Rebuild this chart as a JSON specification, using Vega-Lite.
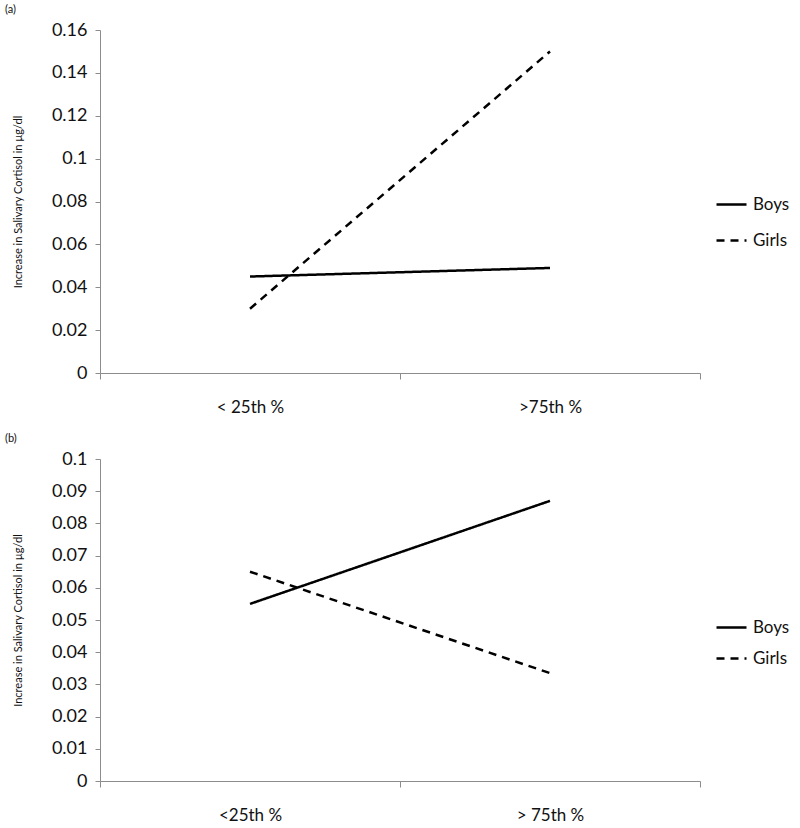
{
  "$schema": "https://vega.github.io/schema/vega-lite/v6.json",
  "background": "white",
  "padding": {"left": 5, "top": 4, "right": 5, "bottom": 4},
  "spacing": 86,
  "bounds": "flush",
  "config": {
    "font": "Lato",
    "view": {"stroke": null},
    "axis": {"grid": false, "domainColor": "#8c8c8c", "tickColor": "#8c8c8c", "labelColor": "#111", "labelFont": "Lato", "titleFont": "Lato", "titleFontWeight": "normal", "titleColor": "#111"},
    "legend": {"labelFont": "Lato", "labelFontSize": 17, "labelColor": "#111"},
    "title": {"font": "Lato", "fontSize": 11, "fontWeight": "normal", "color": "#111", "anchor": "start", "frame": "group", "dx": -95, "offset": 6}
  },
  "datasets": {
    "a": [
      {"pct": "< 25th %", "sex": "Boys", "cortisol": 0.045},
      {"pct": ">75th %", "sex": "Boys", "cortisol": 0.049},
      {"pct": "< 25th %", "sex": "Girls", "cortisol": 0.03},
      {"pct": ">75th %", "sex": "Girls", "cortisol": 0.15}
    ],
    "b": [
      {"pct": "<25th %", "sex": "Boys", "cortisol": 0.055},
      {"pct": "> 75th %", "sex": "Boys", "cortisol": 0.087},
      {"pct": "<25th %", "sex": "Girls", "cortisol": 0.065},
      {"pct": "> 75th %", "sex": "Girls", "cortisol": 0.0335}
    ]
  },
  "resolve": {"legend": {"strokeDash": "independent"}},
  "vconcat": [
    {
      "title": "(a)",
      "width": 600,
      "height": 343,
      "data": {"name": "a"},
      "mark": {"type": "line", "color": "black", "strokeWidth": 2.5},
      "encoding": {
        "x": {"field": "pct", "type": "nominal", "sort": ["< 25th %", ">75th %"],
          "scale": {"paddingInner": 0, "paddingOuter": 0},
          "axis": {"title": null, "labelAngle": 0, "labelFontSize": 17, "labelPadding": 20, "tickSize": 6, "tickBand": "extent"}},
        "y": {"field": "cortisol", "type": "quantitative",
          "scale": {"domain": [0, 0.16], "nice": false},
          "axis": {"title": "Increase in Salivary Cortisol in µg/dl", "titleFontSize": 11, "titlePadding": 28, "values": [0, 0.02, 0.04, 0.06, 0.08, 0.1, 0.12, 0.14, 0.16], "labelExpr": "datum.value === 0 ? '0' : format(datum.value, '.2~f')", "labelFontSize": 18, "labelPadding": 8, "tickSize": 5}},
        "strokeDash": {"field": "sex", "type": "nominal",
          "scale": {"domain": ["Boys", "Girls"], "range": [[1, 0], [8, 6]]},
          "legend": {"title": null, "orient": "none", "legendX": 615, "legendY": 158, "symbolType": "stroke", "symbolSize": 900, "symbolStrokeWidth": 2.5, "symbolStrokeColor": "black", "rowPadding": 11, "labelOffset": 5}}
      }
    },
    {
      "title": "(b)",
      "width": 600,
      "height": 322,
      "data": {"name": "b"},
      "mark": {"type": "line", "color": "black", "strokeWidth": 2.5},
      "encoding": {
        "x": {"field": "pct", "type": "nominal", "sort": ["<25th %", "> 75th %"],
          "scale": {"paddingInner": 0, "paddingOuter": 0},
          "axis": {"title": null, "labelAngle": 0, "labelFontSize": 17, "labelPadding": 20, "tickSize": 6, "tickBand": "extent"}},
        "y": {"field": "cortisol", "type": "quantitative",
          "scale": {"domain": [0, 0.1], "nice": false},
          "axis": {"title": "Increase in Salivary Cortisol in µg/dl", "titleFontSize": 11, "titlePadding": 28, "values": [0, 0.01, 0.02, 0.03, 0.04, 0.05, 0.06, 0.07, 0.08, 0.09, 0.1], "labelExpr": "datum.value === 0 ? '0' : format(datum.value, '.2~f')", "labelFontSize": 18, "labelPadding": 8, "tickSize": 5}},
        "strokeDash": {"field": "sex", "type": "nominal",
          "scale": {"domain": ["Boys", "Girls"], "range": [[1, 0], [8, 6]]},
          "legend": {"title": null, "orient": "none", "legendX": 615, "legendY": 152, "symbolType": "stroke", "symbolSize": 900, "symbolStrokeWidth": 2.5, "symbolStrokeColor": "black", "rowPadding": 6, "labelOffset": 5}}
      }
    }
  ]
}
